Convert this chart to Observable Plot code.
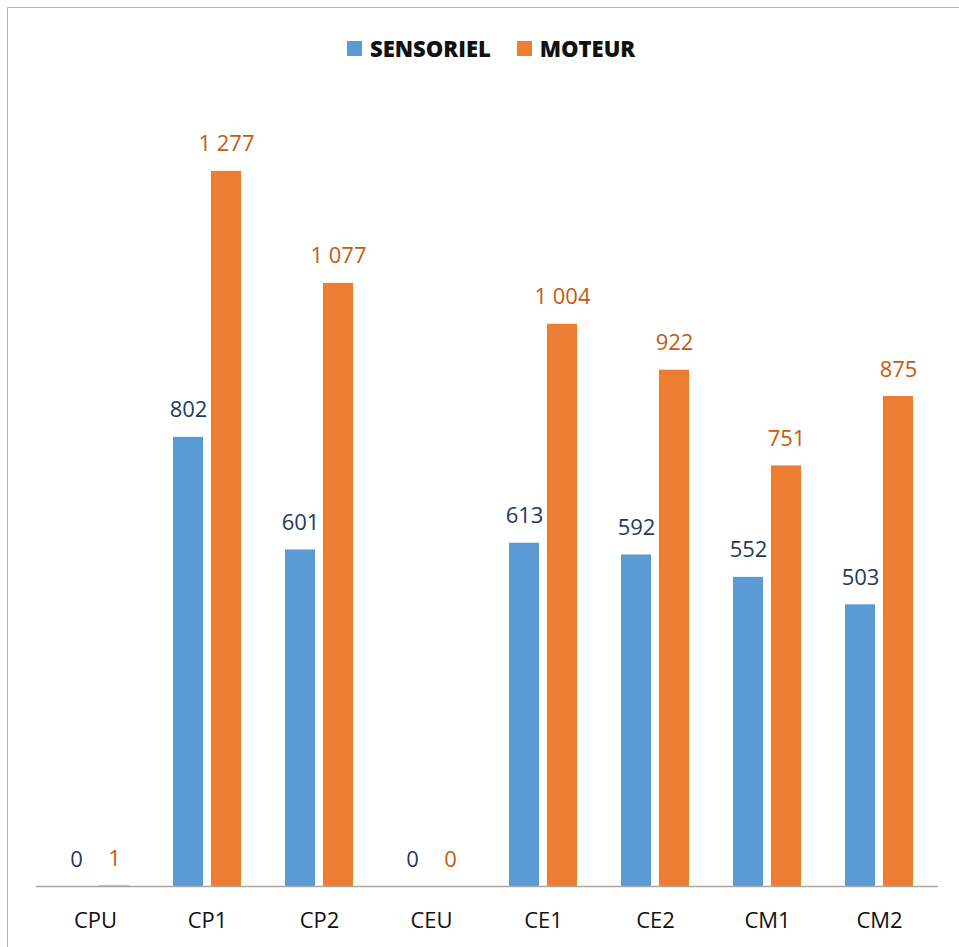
<!DOCTYPE html>
<html>
<head>
<meta charset="utf-8">
<script src="https://cdn.jsdelivr.net/npm/d3@7"></script>
<script src="https://cdn.jsdelivr.net/npm/@observablehq/plot@0.6"></script>
<style>
  html, body { margin: 0; padding: 0; background: #fff; }
  body { width: 959px; height: 947px; position: relative; overflow: hidden; font-family: "Open Sans", sans-serif; }
  #frame { position: absolute; left: 7px; top: 7px; right: -2px; bottom: -2px; border-left: 1.5px solid #b3b3b3; border-top: 1.5px solid #b3b3b3; }
  #legend { position: absolute; left: 347px; top: 33px; display: flex; align-items: center; font-weight: 800; font-size: 22px; color: #111; }
  #legend .item { display: flex; align-items: center; margin-right: 26px; }
  #legend .sw { width: 15px; height: 15px; margin-right: 8px; }
  #chart { position: absolute; left: 0; top: 80px; }
</style>
</head>
<body>
<div id="frame"></div>
<div id="legend"></div>
<div id="chart"></div>
<script>
const categories = ["CPU", "CP1", "CP2", "CEU", "CE1", "CE2", "CM1", "CM2"];
const sensoriel = [0, 802, 601, 0, 613, 592, 552, 503];
const moteur = [1, 1277, 1077, 0, 1004, 922, 751, 875];
const seriesNames = ["SENSORIEL", "MOTEUR"];
const seriesColors = ["#5b9bd5", "#ed7d31"];
const labelColors = ["#1f3864", "#c55a11"];

const sensData = categories.map((c, i) => ({cat: c, series: seriesNames[0], value: sensoriel[i]}));
const motData = categories.map((c, i) => ({cat: c, series: seriesNames[1], value: moteur[i]}));

const fmt = v => d3.format(",")(v).replace(/,/g, "\u00a0");

const legend = document.getElementById("legend");
seriesNames.forEach((s, i) => {
  const item = document.createElement("div");
  item.className = "item";
  item.innerHTML = `<span class="sw" style="background:${seriesColors[i]}"></span><span>${s}</span>`;
  legend.appendChild(item);
});

const barInset = 38;   // each bar occupies one side of the category band
const labelShift = 19; // value labels centred over each bar

const chart = Plot.plot({
  width: 959,
  height: 867,
  marginLeft: 36,
  marginRight: 21,
  marginTop: 22,
  marginBottom: 61,
  style: {fontFamily: "Open Sans, sans-serif", background: "transparent"},
  x: {domain: categories, paddingInner: 0.397, paddingOuter: 0.1985, label: null},
  y: {domain: [0, 1400], axis: null},
  color: {domain: seriesNames, range: seriesColors},
  marks: [
    Plot.barY(sensData, {x: "cat", y: "value", fill: "series", insetRight: barInset}),
    Plot.barY(motData, {x: "cat", y: "value", fill: "series", insetLeft: barInset}),
    Plot.text(sensData, {
      x: "cat", y: "value", text: d => fmt(d.value), fill: labelColors[0],
      lineAnchor: "bottom", dy: -20, dx: -labelShift, fontSize: 22
    }),
    Plot.text(motData, {
      x: "cat", y: "value", text: d => fmt(d.value), fill: labelColors[1],
      lineAnchor: "bottom", dy: -20, dx: labelShift, fontSize: 22
    }),
    Plot.ruleY([0], {stroke: "#a6a6a6", strokeWidth: 1.5}),
    Plot.axisX({anchor: "bottom", tickSize: 0, tickPadding: 26, fontSize: 22, fill: "#111", label: null})
  ]
});
document.getElementById("chart").appendChild(chart);
</script>
</body>
</html>
